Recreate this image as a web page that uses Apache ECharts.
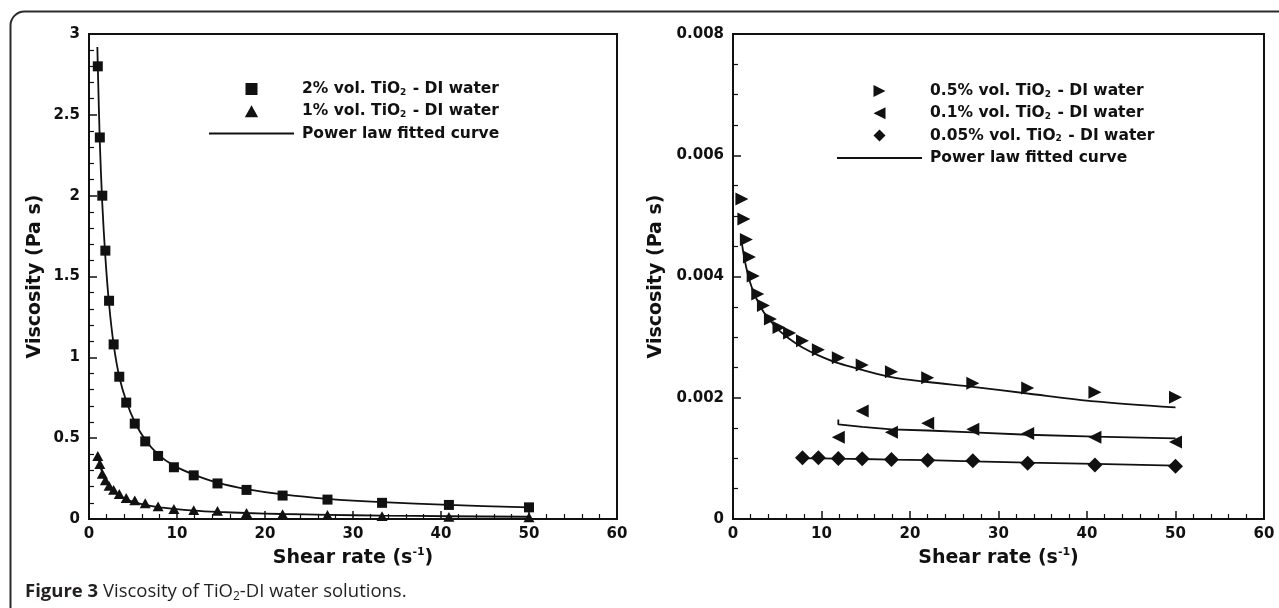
<!DOCTYPE html>
<html>
<head>
<meta charset="utf-8">
<script src="https://cdn.jsdelivr.net/npm/echarts@6/dist/echarts.min.js"></script>
<style>
  html, body { margin: 0; padding: 0; background: #fff; }
  #chart { width: 1279px; height: 608px; }
</style>
</head>
<body>
<div id="chart"></div>
<script>
// shear rates (s^-1)
var shear = [1, 1.23, 1.51, 1.86, 2.28, 2.8, 3.44, 4.23, 5.2, 6.39, 7.85, 9.65, 11.9, 14.6, 17.9, 22, 27.1, 33.3, 40.9, 50];

// left panel: viscosity (Pa s)
var vis2 = [2.80, 2.36, 2.00, 1.66, 1.35, 1.08, 0.88, 0.72, 0.59, 0.48, 0.39, 0.32, 0.27, 0.22, 0.18, 0.145, 0.12, 0.10, 0.087, 0.072];
var vis1 = [0.39, 0.34, 0.28, 0.24, 0.205, 0.18, 0.155, 0.13, 0.115, 0.097, 0.078, 0.062, 0.055, 0.05, 0.037, 0.03, 0.025, 0.018, 0.013, 0.011];
var fit2X = [0.95, 1, 1.23, 1.51, 1.86, 2.28, 2.8, 3.44, 4.23, 5.2, 6.39, 7.85, 9.65, 11.9, 14.6, 17.9, 22, 27.1, 33.3, 40.9, 50];
var fit2 = [2.92, 2.80, 2.33, 1.95, 1.62, 1.33, 1.08, 0.88, 0.73, 0.60, 0.49, 0.40, 0.33, 0.275, 0.225, 0.185, 0.152, 0.125, 0.104, 0.087, 0.072];
var fit1 = [0.40, 0.34, 0.285, 0.24, 0.20, 0.17, 0.145, 0.122, 0.103, 0.087, 0.073, 0.062, 0.052, 0.044, 0.037, 0.031, 0.026, 0.021, 0.017, 0.014];

// right panel
var vis05 = [0.00528, 0.00495, 0.00461, 0.00432, 0.00401, 0.00371, 0.00352, 0.0033, 0.00316, 0.00307, 0.00294, 0.00279, 0.00266, 0.00254, 0.00243, 0.00233, 0.00224, 0.00216, 0.00209, 0.00201];
var fit05 = [0.00455, 0.00434, 0.00414, 0.00394, 0.00376, 0.00359, 0.00342, 0.00327, 0.00311, 0.00297, 0.00283, 0.0027, 0.00257, 0.00246, 0.00234, 0.00226, 0.00218, 0.00207, 0.00194, 0.00184];
var shear01 = [11.9, 14.6, 17.9, 22, 27.1, 33.3, 40.9, 50];
var vis01 = [0.00135, 0.00178, 0.00143, 0.00158, 0.00148, 0.00141, 0.00135, 0.00127];
var fit01X = [11.9, 11.9, 14.6, 17.9, 22, 27.1, 33.3, 40.9, 50];
var fit01 = [0.00164, 0.00156, 0.00152, 0.00148, 0.00146, 0.00143, 0.00139, 0.00136, 0.00133];
var shear005 = [7.85, 9.65, 11.9, 14.6, 17.9, 22, 27.1, 33.3, 40.9, 50];
var vis005 = [0.00101, 0.00101, 0.001, 0.000995, 0.00098, 0.00097, 0.00096, 0.00092, 0.00089, 0.00087];
var fit005 = [0.001, 0.001, 0.000995, 0.00099, 0.00098, 0.00097, 0.00095, 0.00093, 0.00091, 0.00088];

var names = ['2% vol. TiO2 - DI water', '1% vol. TiO2 - DI water',
  '0.5% vol. TiO2 - DI water', '0.1% vol. TiO2 - DI water', '0.05% vol. TiO2 - DI water'];
var fitName = 'Power law fitted curve';

function zip(xs, ys) {
  var out = [];
  for (var i = 0; i < ys.length; i++) out.push([xs[i], ys[i]]);
  return out;
}

var ink = '#111';
var font = 'DejaVu Sans, sans-serif';

// marker shapes (paths keep their aspect in the legend too)
var squareSym = 'path://M0,0 L10,0 L10,10 L0,10 Z';
var triSym = 'path://M5,0 L10,9 L0,9 Z';
var rightTri = 'path://M0,0 L12,6 L0,12 Z';
var leftTri = 'path://M12,0 L0,6 L12,12 Z';
var diamondSym = 'path://M6,0 L12,6 L6,12 L0,6 Z';

function xAxisOf(gi) {
  return {
    gridIndex: gi, type: 'value', min: 0, max: 60, interval: 10,
    name: '{a|Shear rate (s}{b|-1}{a|)}', nameLocation: 'middle', nameGap: 25,
    nameTextStyle: {
      rich: {
        a: { fontFamily: font, fontWeight: 'bold', fontSize: 19, color: ink, lineHeight: 22 },
        b: { fontFamily: font, fontWeight: 'bold', fontSize: 11, color: ink, verticalAlign: 'top', lineHeight: 22 }
      }
    },
    axisLine: { lineStyle: { color: ink, width: 2 } },
    axisTick: { inside: true, length: 8, lineStyle: { color: ink, width: 1.5 } },
    minorTick: { show: true, splitNumber: 5, length: 5, lineStyle: { color: ink, width: 1.2 } },
    splitLine: { show: false },
    axisLabel: { margin: 8, fontFamily: font, fontWeight: 'bold', fontSize: 15, color: ink }
  };
}

function yAxisOf(gi, max, interval, split, gap) {
  return {
    gridIndex: gi, type: 'value', min: 0, max: max, interval: interval,
    name: 'Viscosity (Pa s)', nameLocation: 'middle', nameGap: gap,
    nameTextStyle: { fontFamily: font, fontWeight: 'bold', fontSize: 19, color: ink },
    axisLine: { lineStyle: { color: ink, width: 2 } },
    axisTick: { inside: true, length: 8, lineStyle: { color: ink, width: 1.5 } },
    minorTick: { show: true, splitNumber: split, length: 5, lineStyle: { color: ink, width: 1.2 } },
    splitLine: { show: false },
    axisLabel: { margin: 9, fontFamily: font, fontWeight: 'bold', fontSize: 15, color: ink }
  };
}

function legendText(name) {
  var parts = name.split('TiO2');
  return '{p| }{a|' + parts[0] + 'TiO}{s|2}{a|' + parts[1] + '}';
}
var legendRich = {
  p: { width: 3 },
  a: { fontFamily: font, fontWeight: 'bold', fontSize: 15.5, color: ink, lineHeight: 16 },
  s: { fontFamily: font, fontWeight: 'bold', fontSize: 9, color: ink, verticalAlign: 'bottom', lineHeight: 16, padding: [6, 1, 0, 0] }
};
function legendOf(left, top, data, icons) {
  var items = data.map(function (n, i) {
    if (n === fitName) return { name: n, itemStyle: { color: 'rgba(0,0,0,0)', borderWidth: 0 } };
    return { name: n, icon: icons[i] };
  });
  return {
    left: left, top: top, orient: 'vertical', itemWidth: 85, itemHeight: 12, itemGap: 6.3,
    selectedMode: false, data: items,
    formatter: function (n) { return n === fitName ? '{p| }{a|' + n + '}' : legendText(n); },
    textStyle: { rich: legendRich }
  };
}

function scatter(name, xi, data, symbol, size) {
  return {
    type: 'scatter', name: name, xAxisIndex: xi, yAxisIndex: xi, data: data,
    symbol: symbol, symbolSize: size, symbolKeepAspect: true,
    itemStyle: { color: ink, opacity: 1 }, z: 5
  };
}
function fit(xi, data, smooth) {
  return {
    type: 'line', name: fitName, xAxisIndex: xi, yAxisIndex: xi, data: data,
    symbol: 'none', smooth: smooth, itemStyle: { color: ink },
    lineStyle: { color: ink, width: 1.8 }, z: 3
  };
}

var option = {
  backgroundColor: '#fff',
  animation: false,
  grid: [
    { left: 89, top: 34, width: 528, height: 485, show: true, borderColor: ink, borderWidth: 2 },
    { left: 733, top: 34, width: 531, height: 485, show: true, borderColor: ink, borderWidth: 2 }
  ],
  xAxis: [xAxisOf(0), xAxisOf(1)],
  yAxis: [yAxisOf(0, 3, 0.5, 5, 44), yAxisOf(1, 0.008, 0.002, 4, 67)],
  legend: [
    legendOf(203, 76, [names[0], names[1], fitName], [squareSym, triSym]),
    legendOf(831, 78, [names[2], names[3], names[4], fitName], [rightTri, leftTri, diamondSym])
  ],
  graphic: [
    {
      type: 'rect', left: 8, top: 9, silent: true,
      shape: { width: 1320, height: 700, r: 14 },
      style: { fill: 'none', stroke: '#2b2b2b', lineWidth: 2 }
    },
    {
      type: 'text', left: 25, top: 582,
      style: {
        text: '{b|Figure 3}{n| Viscosity of TiO}{s|2}{n|-DI water solutions.}',
        rich: {
          b: { fontFamily: 'Open Sans, sans-serif', fontWeight: 'bold', fontSize: 18.5, fill: '#231f20', lineHeight: 22 },
          n: { fontFamily: 'Open Sans, sans-serif', fontSize: 18.5, fill: '#231f20', lineHeight: 22 },
          s: { fontFamily: 'Open Sans, sans-serif', fontSize: 12, fill: '#231f20', verticalAlign: 'bottom', lineHeight: 22, padding: [6, 0, 0, 0] }
        }
      }
    }
  ],
  series: [
    fit(0, zip(fit2X, fit2), 0.3),
    fit(0, zip(shear, fit1), 0.3),
    scatter(names[0], 0, zip(shear, vis2), squareSym, 10),
    scatter(names[1], 0, zip(shear, vis1), triSym, 11),
    fit(1, zip(shear, fit05), 0.3),
    fit(1, zip(fit01X, fit01), false),
    fit(1, zip(shear005, fit005), false),
    scatter(names[2], 1, zip(shear, vis05), rightTri, 13),
    scatter(names[3], 1, zip(shear01, vis01), leftTri, 13),
    scatter(names[4], 1, zip(shear005, vis005), diamondSym, 15)
  ]
};

var chart = echarts.init(document.getElementById('chart'));
chart.setOption(option);
</script>
</body>
</html>
